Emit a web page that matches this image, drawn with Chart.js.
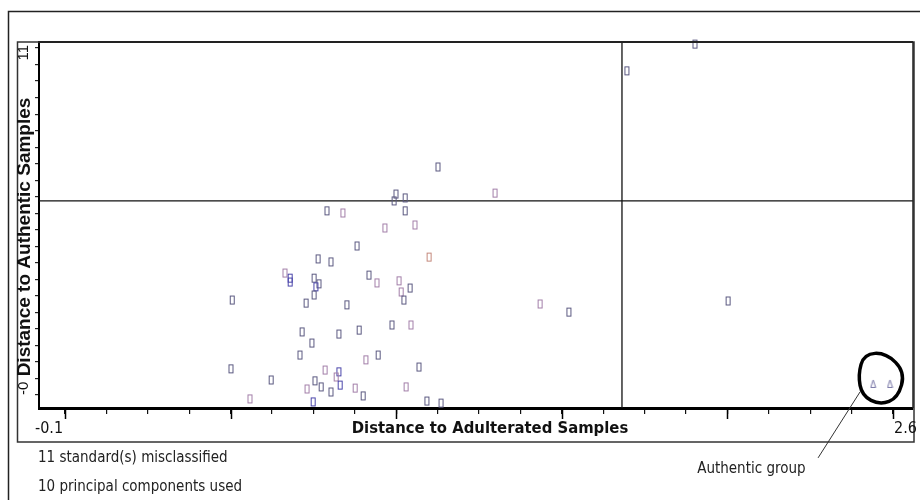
<!DOCTYPE html>
<html>
<head>
<meta charset="utf-8">
<script src="https://cdn.jsdelivr.net/npm/chart.js@4/dist/chart.umd.min.js"></script>
<style>
  html, body { margin: 0; padding: 0; background: #fff; }
  #wrap { width: 920px; height: 500px; }
</style>
</head>
<body>
<div id="wrap"><canvas id="plot" width="920" height="500"></canvas></div>
<script>
// samples: x = distance to adulterated, y = distance to authentic
const sampleX = [1.116, 0.979, 0.973, 1.009, 1.009, 0.754, 0.806, 0.943, 1.041, 0.852,
                 1.087, 0.725, 0.767, 0.617, 0.634, 0.634, 0.712, 0.728, 0.718, 0.712,
                 0.686, 0.891, 0.917, 0.989, 0.996, 1.005, 1.025, 0.445, 0.819, 0.966,
                 1.028, 0.859, 0.673, 0.705, 0.793, 0.666, 0.921, 0.881, 0.441, 0.748,
                 1.054, 0.572, 0.793, 0.784, 0.715, 0.689, 0.735, 0.797, 0.767, 0.846,
                 0.872, 1.012, 0.503, 0.709, 1.080, 1.126, 1.302, 1.449, 1.543, 1.732,
                 1.954, 2.062];
const sampleY = [7.29, 6.39, 6.16, 6.26, 5.83, 5.83, 5.76, 5.26, 5.36, 4.66,
                 4.29, 4.23, 4.13, 3.76, 3.59, 3.46, 3.59, 3.40, 3.30, 3.03,
                 2.76, 3.69, 3.43, 3.50, 3.13, 2.86, 3.26, 2.86, 2.70, 2.03,
                 2.03, 1.86, 1.80, 1.43, 1.73, 1.03, 1.03, 0.87, 0.57, 0.53,
                 0.63, 0.20, 0.47, 0.30, 0.17, -0.10, -0.03, 0.03, -0.20, -0.07,
                 -0.33, -0.03, -0.43, -0.53, -0.50, -0.57, 6.42, 2.73, 2.46, 10.49,
                 11.38, 2.83];
const sampleTone = ['b','b','b','b','b','b','p','p','p','b',
                    'o','b','b','p','v','v','b','b','v','b',
                    'b','b','p','p','p','b','b','b','b','b',
                    'p','b','b','b','b','b','b','p','b','p',
                    'b','b','v','p','b','p','b','v','b','p',
                    'b','p','p','v','b','b','p','p','b','b',
                    'b','b'];

// the two authentic standards (triangles)
const authenticX = [2.535, 2.590];
const authenticY = [0.07, 0.07];

// class limits
const xLimit = 1.716;
const yLimit = 6.16;

const xRange = [-0.185, 2.665];
const yRange = [-0.733, 11.45];
const xTicks = [-0.1, 0.035, 0.17, 0.305, 0.44, 0.575, 0.71, 0.845, 0.98, 1.115, 1.25,
                1.385, 1.52, 1.655, 1.79, 1.925, 2.06, 2.195, 2.33, 2.465, 2.6];
const xMajorTicks = [-0.1, 0.44, 0.98, 1.52, 2.06, 2.6];
const yTicks = [-0.3, 0.25, 0.8, 1.35, 1.9, 2.45, 3.0, 3.55, 4.1, 4.65, 5.2,
                5.75, 6.3, 6.85, 7.4, 7.95, 8.5, 9.05, 9.6, 10.15, 10.7, 11.25];
const xTickLabels = ['-0.1', '2.6'];
const yTickLabels = ['-0', '11'];

const NARROW = '"Liberation Sans Narrow", "Arial Narrow", "DejaVu Sans Condensed", sans-serif';
const toneColor = { b: '#5b5980', p: '#a27ea8', o: '#c4887c', v: '#4a45aa' };

function boxMarker(color) {
  const c = document.createElement('canvas');
  c.width = 7; c.height = 11;
  const g = c.getContext('2d');
  g.strokeStyle = color;
  g.lineWidth = 1;
  g.strokeRect(1.5, 1.5, 4, 8);
  return c;
}
function triMarker(color) {
  const c = document.createElement('canvas');
  c.width = 7; c.height = 10;
  const g = c.getContext('2d');
  g.strokeStyle = color;
  g.lineWidth = 1;
  g.beginPath();
  g.moveTo(3.5, 1); g.lineTo(6, 8.5); g.lineTo(1, 8.5); g.closePath();
  g.stroke();
  return c;
}
const markers = {};
Object.keys(toneColor).forEach(k => markers[k] = boxMarker(toneColor[k]));

function smoothLoop(ctx, pts) {
  const n = pts.length;
  const mid = (a, b) => [(a[0] + b[0]) / 2, (a[1] + b[1]) / 2];
  let m = mid(pts[n - 1], pts[0]);
  ctx.beginPath();
  ctx.moveTo(m[0], m[1]);
  for (let i = 0; i < n; i++) {
    const m2 = mid(pts[i], pts[(i + 1) % n]);
    ctx.quadraticCurveTo(pts[i][0], pts[i][1], m2[0], m2[1]);
  }
  ctx.closePath();
}

const decor = {
  id: 'decor',
  beforeDraw(chart) {
    const ctx = chart.ctx;
    ctx.save();
    ctx.fillStyle = '#fff';
    ctx.fillRect(0, 0, chart.width, chart.height);
    ctx.restore();
  },
  afterDraw(chart) {
    const { ctx, chartArea: area } = chart;
    const x = chart.scales.x, y = chart.scales.y;
    ctx.save();

    // outer frame + panel
    ctx.strokeStyle = '#222';
    ctx.lineWidth = 1.5;
    ctx.beginPath();
    ctx.moveTo(8.5, 500); ctx.lineTo(8.5, 11.5); ctx.lineTo(920, 11.5);
    ctx.stroke();
    ctx.strokeStyle = '#333';
    ctx.strokeRect(17.5, area.top, area.right + 1 - 17.5, 442 - area.top);

    // plot top / right edges
    ctx.strokeStyle = '#222';
    ctx.lineWidth = 2;
    ctx.beginPath();
    ctx.moveTo(area.left, area.top); ctx.lineTo(area.right, area.top);
    ctx.stroke();
    ctx.lineWidth = 1.5;
    ctx.beginPath();
    ctx.moveTo(area.right, area.top); ctx.lineTo(area.right, area.bottom);
    ctx.stroke();

    // longer major ticks on x
    ctx.strokeStyle = '#000';
    ctx.lineWidth = 1.5;
    xMajorTicks.forEach(v => {
      const px = Math.round(x.getPixelForValue(v)) + 0.5;
      ctx.beginPath();
      ctx.moveTo(px, area.bottom); ctx.lineTo(px, area.bottom + 11);
      ctx.stroke();
    });

    // x tick labels and title
    ctx.fillStyle = '#111';
    ctx.textBaseline = 'middle';
    ctx.font = '16px ' + NARROW;
    ctx.textAlign = 'right';
    ctx.fillText(xTickLabels[0], x.getPixelForValue(xTicks[0]) - 2, 429);
    ctx.textAlign = 'left';
    ctx.fillText(xTickLabels[1], x.getPixelForValue(xTicks[xTicks.length - 1]) + 1, 429);
    ctx.font = 'bold 16.5px ' + NARROW;
    ctx.textAlign = 'center';
    ctx.fillText('Distance to Adulterated Samples', (area.left + area.right) / 2 + 14, 429);

    // y tick labels and title (rotated)
    ctx.save();
    ctx.translate(24, y.getPixelForValue(yTicks[0]));
    ctx.rotate(-Math.PI / 2);
    ctx.font = '15px "Liberation Sans", Arial, sans-serif';
    ctx.textAlign = 'left';
    ctx.fillText(yTickLabels[0], 0, 0);
    ctx.restore();
    ctx.save();
    ctx.translate(24, y.getPixelForValue(yTicks[yTicks.length - 1]) - 3);
    ctx.rotate(-Math.PI / 2);
    ctx.font = '15px "Liberation Sans", Arial, sans-serif';
    ctx.textAlign = 'right';
    ctx.fillText(yTickLabels[1], 0, 0);
    ctx.restore();
    ctx.save();
    ctx.translate(25, (area.top + area.bottom) / 2 + 12);
    ctx.rotate(-Math.PI / 2);
    ctx.font = 'bold 19px "Liberation Sans", Arial, sans-serif';
    ctx.textAlign = 'center';
    ctx.fillText('Distance to Authentic Samples', 0, 0);
    ctx.restore();

    // footnotes
    ctx.font = '15px ' + NARROW;
    ctx.textAlign = 'left';
    ctx.fillStyle = '#222';
    ctx.fillText('11 standard(s) misclassified', 38, 458);
    ctx.fillText('10 principal components used', 38, 487);

    // hand-drawn ring around the authentic group
    const cx = (x.getPixelForValue(authenticX[0]) + x.getPixelForValue(authenticX[1])) / 2;
    const cy = y.getPixelForValue(authenticY[0]);
    const ring = [[-17.5, -30], [4.5, -31], [23.5, -12], [16.5, 14], [-1.5, 21], [-19.5, 12], [-23.5, -9]]
      .map(p => [cx + p[0], cy + p[1]]);
    ctx.strokeStyle = '#000';
    ctx.lineWidth = 3.5;
    ctx.lineJoin = 'round';
    smoothLoop(ctx, ring);
    ctx.stroke();
    ctx.strokeStyle = '#333';
    ctx.lineWidth = 1;
    ctx.beginPath();
    ctx.moveTo(cx - 21.5, cy + 8); ctx.lineTo(cx - 63.5, cy + 74);
    ctx.stroke();
    ctx.fillStyle = '#222';
    ctx.font = '15px ' + NARROW;
    ctx.textAlign = 'right';
    ctx.fillText('Authentic group', cx - 76, cy + 85);

    ctx.restore();
  }
};

new Chart(document.getElementById('plot').getContext('2d'), {
  type: 'scatter',
  data: {
    datasets: [
      {
        label: 'Samples',
        data: sampleX.map((v, i) => ({ x: v, y: sampleY[i] })),
        pointStyle: sampleTone.map(t => markers[t]),
        pointRadius: 5,
        clip: false
      },
      {
        label: 'Authentic',
        data: authenticX.map((v, i) => ({ x: v, y: authenticY[i] })),
        pointStyle: triMarker('#7876a6'),
        pointRadius: 5
      },
      {
        type: 'line',
        label: 'x limit',
        data: [{ x: xLimit, y: yRange[0] }, { x: xLimit, y: yRange[1] }],
        borderColor: '#111',
        borderWidth: 1.3,
        pointRadius: 0
      },
      {
        type: 'line',
        label: 'y limit',
        data: [{ x: xRange[0], y: yLimit }, { x: xRange[1], y: yLimit }],
        borderColor: '#111',
        borderWidth: 1.3,
        pointRadius: 0
      }
    ]
  },
  options: {
    responsive: false,
    animation: false,
    devicePixelRatio: 1,
    layout: { padding: { top: 42, right: 7, bottom: 0, left: 0 } },
    plugins: {
      legend: { display: false },
      tooltip: { enabled: false }
    },
    scales: {
      x: {
        type: 'linear',
        min: xRange[0],
        max: xRange[1],
        afterBuildTicks: s => { s.ticks = xTicks.map(v => ({ value: v })); },
        afterFit: s => { s.height = 92; },
        ticks: { display: false },
        grid: { drawOnChartArea: false, drawTicks: true, tickLength: 6, color: '#111', lineWidth: 1.2 },
        border: { display: true, color: '#000', width: 3 }
      },
      y: {
        type: 'linear',
        min: yRange[0],
        max: yRange[1],
        afterBuildTicks: s => { s.ticks = yTicks.map(v => ({ value: v })); },
        afterFit: s => { s.width = 39; },
        ticks: { display: false },
        grid: { drawOnChartArea: false, drawTicks: true, tickLength: 4, color: '#222', lineWidth: 1.2 },
        border: { display: true, color: '#000', width: 2 }
      }
    }
  },
  plugins: [decor]
});
</script>
</body>
</html>
